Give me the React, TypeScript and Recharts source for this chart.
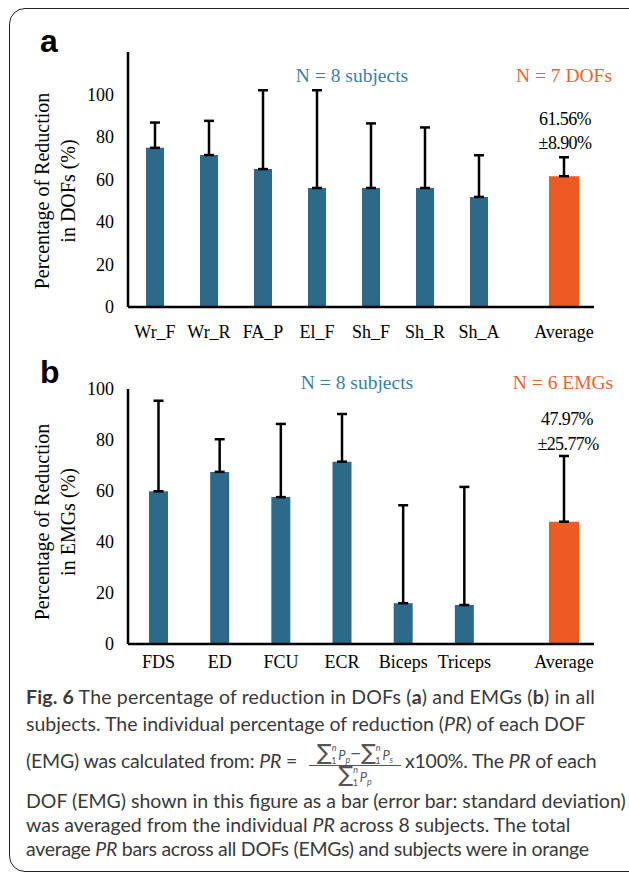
import React from 'react';
import { BarChart, Bar, XAxis, YAxis, ErrorBar } from 'recharts';

// panel a: degrees of freedom
const dofNames = ['Wr_F', 'Wr_R', 'FA_P', 'El_F', 'Sh_F', 'Sh_R', 'Sh_A'];
const dofMeans = [74.9, 71.5, 64.9, 56.0, 56.0, 56.0, 51.8];
const dofSds = [11.9, 16.1, 37.1, 46.0, 30.4, 28.5, 19.6];
const dofAvg = 61.56;
const dofAvgSd = 8.9;
const dofTicks = [0, 20, 40, 60, 80, 100];

// panel b: EMG channels
const emgNames = ['FDS', 'ED', 'FCU', 'ECR', 'Biceps', 'Triceps'];
const emgMeans = [59.9, 67.5, 57.6, 71.5, 16.0, 15.3];
const emgSds = [35.5, 12.8, 28.7, 18.7, 38.4, 46.3];
const emgAvg = 47.97;
const emgAvgSd = 25.77;
const emgTicks = [0, 20, 40, 60, 80, 100];

const BLUE = '#2d6a89';
const ORANGE = '#ee5a24';
const SERIF = 'Liberation Serif, Times New Roman, serif';

const axisLine = { stroke: '#000', strokeWidth: 2.5 };
const tickStyle = { fill: '#000', fontSize: 18, fontFamily: SERIF };

function Panel({ names, means, sds, avg, avgSd, yMax, ticks, top, plotTop, plotH, padRight, barSize, labelGap }: any) {
  const rows = names.map((n: string, i: number) => ({ name: n, value: means[i], err: [0, sds[i]] }));
  const avgRows = [{ name: 'Average', value: avg, err: [0, avgSd] }];
  const h = plotTop + plotH + 40;
  return (
    <>
      <div style={{ position: 'absolute', left: 0, top }}>
        <BarChart width={534} height={h} data={rows} margin={{ top: plotTop, left: 68, right: 0, bottom: 0 }}>
          <YAxis
            width={60}
            domain={[0, yMax]}
            ticks={ticks}
            axisLine={axisLine}
            tickLine={false}
            tickSize={6}
            tickMargin={8}
            tick={tickStyle}
          />
          <XAxis
            dataKey="name"
            height={40}
            padding={{ left: 0, right: padRight }}
            axisLine={axisLine}
            tickLine={false}
            tickSize={6}
            tickMargin={labelGap}
            tick={tickStyle}
            interval={0}
          />
          <Bar dataKey="value" fill={BLUE} barSize={barSize} isAnimationActive={false}>
            <ErrorBar dataKey="err" width={5} strokeWidth={2.5} stroke="#000" direction="y" />
          </Bar>
        </BarChart>
      </div>
      <div style={{ position: 'absolute', left: 0, top }}>
        <BarChart width={629} height={h} data={avgRows} margin={{ top: plotTop, left: 534, right: 35, bottom: 0 }}>
          <YAxis hide domain={[0, yMax]} ticks={ticks} />
          <XAxis
            dataKey="name"
            height={40}
            axisLine={axisLine}
            tickLine={false}
            tickSize={6}
            tickMargin={labelGap}
            tick={tickStyle}
          />
          <Bar dataKey="value" fill={ORANGE} barSize={30} isAnimationActive={false}>
            <ErrorBar dataKey="err" width={5} strokeWidth={2.5} stroke="#000" direction="y" />
          </Bar>
        </BarChart>
      </div>
    </>
  );
}

const captionFont = 'Lato, "Open Sans", sans-serif';
const capLine: React.CSSProperties = {
  position: 'absolute',
  left: 26,
  whiteSpace: 'nowrap',
  fontFamily: captionFont,
  fontSize: 19.5,
  color: '#3a3a3a',
  lineHeight: '22px',
};

function Sum({ sub }: { sub: string }) {
  return (
    <span style={{ whiteSpace: 'nowrap' }}>
      <span style={{ fontSize: 22, fontFamily: 'DejaVu Sans, sans-serif' }}>∑</span>
      <span style={{ fontSize: 9, fontStyle: 'italic', position: 'relative', top: -9 }}>n</span>
      <span style={{ fontSize: 9, position: 'relative', top: 4, marginLeft: -5 }}>1</span>
      <span style={{ fontSize: 13, fontStyle: 'italic', marginLeft: 2 }}>P</span>
      <span style={{ fontSize: 9, fontStyle: 'italic', position: 'relative', top: 3 }}>{sub}</span>
    </span>
  );
}

const fracPart: React.CSSProperties = {
  position: 'absolute',
  left: -4,
  right: -4,
  textAlign: 'center',
  whiteSpace: 'nowrap',
  lineHeight: '16px',
  color: '#555',
};

export default function App() {
  return (
    <div style={{ position: 'absolute', left: 0, top: 0, width: 629, height: 875, overflow: 'hidden', background: '#fff' }}>
      <div
        style={{
          position: 'absolute',
          left: 9,
          top: 8,
          width: 660,
          height: 862,
          border: '1.5px solid #222',
          borderRadius: 16,
        }}
      />
      <Panel
        names={dofNames}
        means={dofMeans}
        sds={dofSds}
        avg={dofAvg}
        avgSd={dofAvgSd}
        yMax={120}
        ticks={dofTicks}
        top={0}
        plotTop={52}
        plotH={255}
        padRight={28}
        barSize={18}
        labelGap={12}
      />
      <Panel
        names={emgNames}
        means={emgMeans}
        sds={emgSds}
        avg={emgAvg}
        avgSd={emgAvgSd}
        yMax={100}
        ticks={emgTicks}
        top={350}
        plotTop={39}
        plotH={255}
        padRight={39}
        barSize={19}
        labelGap={5}
      />
      <svg width={629} height={680} style={{ position: 'absolute', left: 0, top: 0, pointerEvents: 'none' }}>
        <g fontFamily="Liberation Sans, Arial, sans-serif" fontWeight="bold" fontSize={32} fill="#000">
          <text x={40} y={52}>a</text>
          <text x={40} y={383}>b</text>
        </g>
        <g fontFamily={SERIF} fontSize={20} fill="#000" textAnchor="middle">
          <text transform="translate(49,191) rotate(-90)">Percentage of Reduction</text>
          <text transform="translate(75,191) rotate(-90)">in DOFs (%)</text>
          <text transform="translate(49,522) rotate(-90)">Percentage of Reduction</text>
          <text transform="translate(75,522) rotate(-90)">in EMGs (%)</text>
        </g>
        <g fontFamily={SERIF} fontSize={19.5} textAnchor="middle">
          <text x={352} y={82} fill="#3b7ea3">N = 8 subjects</text>
          <text x={564} y={82} fill="#f0622d">N = 7 DOFs</text>
          <text x={357} y={389} fill="#3b7ea3">N = 8 subjects</text>
          <text x={563} y={389} fill="#f0622d">N = 6 EMGs</text>
        </g>
        <g fontFamily={SERIF} fontSize={18} fill="#000" textAnchor="middle" letterSpacing={-0.6}>
          <text x={565} y={125}>61.56%</text>
          <text x={565} y={149}>±8.90%</text>
          <text x={567} y={425}>47.97%</text>
          <text x={568} y={450}>±25.77%</text>
        </g>
      </svg>
      <div style={{ ...capLine, top: 686, letterSpacing: 0.18 }}>
        <b>Fig. 6</b> The percentage of reduction in DOFs (<b>a</b>) and EMGs (<b>b</b>) in all
      </div>
      <div style={{ ...capLine, top: 713 }}>
        subjects. The individual percentage of reduction (<i>PR</i>) of each DOF
      </div>
      <div style={{ ...capLine, top: 750, letterSpacing: -0.2 }}>
        (EMG) was calculated from: <i>PR</i> =
        <span style={{ position: 'relative', display: 'inline-block', width: 92, height: 0, margin: '0 4px 0 12px' }}>
          <span style={{ ...fracPart, bottom: 3 }}>
            <Sum sub="p" />−<Sum sub="s" />
          </span>
          <span style={{ position: 'absolute', left: 0, right: 0, top: -3, borderTop: '1.3px solid #555' }} />
          <span style={{ ...fracPart, top: -1 }}>
            <Sum sub="p" />
          </span>
        </span>
        x100%. The <i>PR</i> of each
      </div>
      <div style={{ ...capLine, top: 790 }}>
        DOF (EMG) shown in this figure as a bar (error bar: standard deviation)
      </div>
      <div style={{ ...capLine, top: 814 }}>
        was averaged from the individual <i>PR</i> across 8 subjects. The total
      </div>
      <div style={{ ...capLine, top: 838, letterSpacing: -0.28 }}>
        average <i>PR</i> bars across all DOFs (EMGs) and subjects were in orange
      </div>
    </div>
  );
}
